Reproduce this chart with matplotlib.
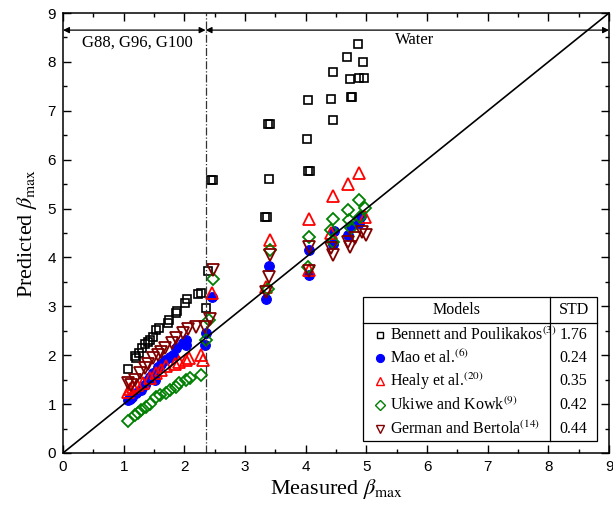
import matplotlib
matplotlib.use("Agg")
import matplotlib.pyplot as plt
from matplotlib.patches import Rectangle
from matplotlib.ticker import MultipleLocator

plt.rcParams["mathtext.fontset"] = "stix"
SERIF = "Liberation Serif"
SANS = "Liberation Sans"

# measured vs predicted beta_max per model
bennett_x = [1.07, 1.18, 1.21, 1.25, 1.31, 1.35, 1.40, 1.43, 1.48, 1.53, 1.58, 1.73, 1.75, 1.86,
             1.88, 2.01, 2.04, 2.23, 2.28, 2.35, 2.39,
             2.44, 2.48, 3.33, 3.36, 3.40, 3.38, 3.42, 4.02, 4.03, 4.04, 4.07, 4.42, 4.45, 4.45,
             4.68, 4.73, 4.74, 4.77, 4.87, 4.88, 4.94, 4.96]
bennett_y = [1.71, 1.98, 1.94, 2.05, 2.14, 2.22, 2.28, 2.32, 2.37, 2.52, 2.55, 2.65, 2.72, 2.86,
             2.91, 3.06, 3.14, 3.26, 3.28, 2.96, 3.73,
             5.58, 5.58, 4.82, 4.82, 5.60, 6.72, 6.72, 6.43, 7.22, 5.77, 5.77, 7.25, 6.81, 7.79,
             8.09, 7.65, 7.29, 7.29, 8.36, 7.68, 7.99, 7.68]

mao_x = [1.07, 1.10, 1.13, 1.20, 1.29, 1.35, 1.40, 1.43, 1.49, 1.51, 1.57, 1.62, 1.68, 1.76,
         1.81, 1.87, 1.98, 2.02, 2.03, 2.34, 2.36, 2.46, 3.35, 3.40, 4.05, 4.06, 4.45, 4.47,
         4.70, 4.75, 4.88, 4.92]
mao_y = [1.08, 1.10, 1.15, 1.22, 1.29, 1.40, 1.49, 1.55, 1.63, 1.49, 1.76, 1.83, 1.90, 1.97,
         2.00, 2.14, 2.24, 2.21, 2.31, 2.21, 2.45, 3.20, 3.16, 3.83, 3.64, 4.15, 4.28, 4.55,
         4.45, 4.65, 4.70, 4.85]

healy_x = [1.07, 1.10, 1.16, 1.22, 1.32, 1.43, 1.54, 1.62, 1.70, 1.84, 1.92, 2.03, 2.08, 2.28,
           2.30, 2.46, 3.35, 3.42, 4.05, 4.06, 4.42, 4.45, 4.69, 4.88, 4.98]
healy_y = [1.25, 1.30, 1.36, 1.40, 1.43, 1.53, 1.63, 1.70, 1.77, 1.83, 1.87, 1.90, 1.95, 2.00,
           1.90, 3.27, 3.40, 4.36, 3.74, 4.79, 4.49, 5.26, 5.51, 5.73, 4.83]

ukiwe_x = [1.07, 1.18, 1.24, 1.29, 1.37, 1.43, 1.54, 1.60, 1.70, 1.76, 1.87, 1.92, 2.03, 2.09,
           2.28, 2.36, 2.40, 2.47, 3.38, 3.42, 4.03, 4.05, 4.42, 4.45, 4.45, 4.69, 4.72, 4.75,
           4.88, 4.90, 4.97]
ukiwe_y = [0.65, 0.78, 0.81, 0.88, 0.95, 1.01, 1.15, 1.19, 1.22, 1.29, 1.36, 1.43, 1.49, 1.53,
           1.60, 2.32, 2.72, 3.55, 3.35, 4.15, 3.81, 4.41, 4.56, 4.32, 4.78, 4.97, 4.76, 4.60,
           5.17, 4.83, 5.01]

german_x = [1.07, 1.12, 1.18, 1.27, 1.35, 1.40, 1.49, 1.57, 1.62, 1.68, 1.79, 1.87, 1.98, 2.06,
            2.20, 2.34, 2.42, 2.47, 3.35, 3.40, 3.42, 4.05, 4.06, 4.42, 4.45, 4.70, 4.73, 4.82,
            4.93, 5.00]
german_y = [1.43, 1.40, 1.49, 1.63, 1.73, 1.83, 1.94, 2.00, 2.07, 2.14, 2.24, 2.35, 2.45, 2.54,
            2.58, 2.58, 2.75, 3.74, 3.30, 3.61, 4.06, 3.72, 4.22, 4.19, 4.05, 4.32, 4.22, 4.39,
            4.53, 4.45]

models = [r"Bennett and Poulikakos$^{\mathrm{(3)}}$", r"Mao et al.$^{\mathrm{(6)}}$",
          r"Healy et al.$^{\mathrm{(20)}}$", r"Ukiwe and Kowk$^{\mathrm{(9)}}$",
          r"German and Bertola$^{\mathrm{(14)}}$"]
std = ["1.76", "0.24", "0.35", "0.42", "0.44"]
boundary = 2.35

series = [
    (bennett_x, bennett_y, dict(marker="s", ms=6, mfc="none", mec="black", mew=1.2)),
    (mao_x, mao_y, dict(marker="o", ms=7, mfc="#0000ff", mec="#0000ff", mew=0.8)),
    (healy_x, healy_y, dict(marker="^", ms=8, mfc="none", mec="#ff0000", mew=1.3)),
    (ukiwe_x, ukiwe_y, dict(marker="D", ms=6.3, mfc="none", mec="#008000", mew=1.3)),
    (german_x, german_y, dict(marker="v", ms=8, mfc="none", mec="#800000", mew=1.3)),
]

fig = plt.figure(figsize=(6.13, 5.14), dpi=100)
ax = fig.add_axes([0.1028, 0.1187, 0.8907, 0.856])

for xs, ys, st in series:
    ax.plot(xs, ys, ls="none", **st)

ax.plot([0, 9], [0, 9], color="black", lw=1.2)
ax.axvline(boundary, color="#333333", lw=0.9, ls="-.")

arr = dict(arrowstyle="<|-|>", color="black", lw=0.9, mutation_scale=9, shrinkA=0, shrinkB=0)
ax.annotate("", xy=(0, 8.65), xytext=(boundary, 8.65), arrowprops=arr)
ax.annotate("", xy=(boundary, 8.65), xytext=(9, 8.65), arrowprops=arr)
ax.text(1.23, 8.4, "G88, G96, G100", ha="center", va="center", fontsize=12, family=SERIF)
ax.text(5.79, 8.45, "Water", ha="center", va="center", fontsize=12, family=SERIF)

ax.set_xlim(0, 9)
ax.set_ylim(0, 9)
ax.xaxis.set_major_locator(MultipleLocator(1))
ax.yaxis.set_major_locator(MultipleLocator(1))
ax.xaxis.set_minor_locator(MultipleLocator(0.5))
ax.yaxis.set_minor_locator(MultipleLocator(0.5))
ax.tick_params(which="both", direction="in", top=True, right=True, width=1.0)
ax.tick_params(which="major", length=6, labelsize=11, pad=5)
ax.tick_params(which="minor", length=3)
for lab in ax.get_xticklabels() + ax.get_yticklabels():
    lab.set_family(SANS)
for sp in ax.spines.values():
    sp.set_linewidth(1.1)

ax.set_xlabel(r"Measured $\beta_{\mathrm{max}}$", fontsize=16, family=SERIF, labelpad=2)
ax.set_ylabel(r"Predicted $\beta_{\mathrm{max}}$", fontsize=16, family=SERIF, labelpad=6)

# table-style legend, laid out in axes fractions
def fx(px):
    return (px - 63) / 546.0

def fy(py):
    return (453 - py) / 440.0

T = ax.transAxes
x0, x1, xc = fx(363), fx(597), fx(550)
y0, y1, yh = fy(441), fy(297), fy(323)
ax.add_patch(Rectangle((x0, y0), x1 - x0, y1 - y0, transform=T, facecolor="white",
                       edgecolor="black", lw=0.9, zorder=5))
ax.plot([x0, x1], [yh, yh], transform=T, color="black", lw=0.9, zorder=6)
ax.plot([xc, xc], [y0, y1], transform=T, color="black", lw=0.9, zorder=6)
ax.text((x0 + xc) / 2, fy(310), "Models", transform=T, ha="center", va="center",
        fontsize=11.5, family=SERIF, zorder=7)
ax.text((xc + x1) / 2, fy(310), "STD", transform=T, ha="center", va="center",
        fontsize=11.5, family=SERIF, zorder=7)
row_y = [335, 358, 381, 405, 429]
for (xs, ys, st), name, s, ry in zip(series, models, std, row_y):
    ax.plot([fx(380)], [fy(ry)], transform=T, ls="none", zorder=7, clip_on=False,
            **dict(st, ms=st["ms"] * 0.8, mew=1.0))
    ax.text(fx(390), fy(ry), name, transform=T, ha="left", va="center",
            fontsize=11.5, family=SERIF, zorder=7)
    ax.text((xc + x1) / 2, fy(ry), s, transform=T, ha="center", va="center",
            fontsize=11.5, family=SERIF, zorder=7)

fig.savefig("out.png", dpi=100)
